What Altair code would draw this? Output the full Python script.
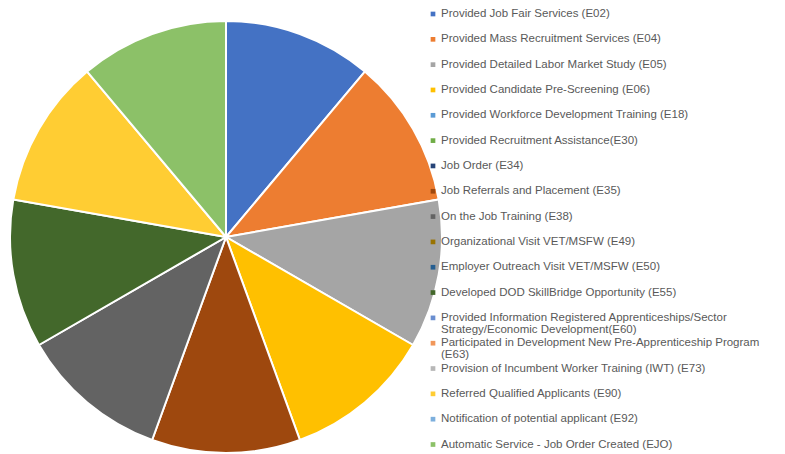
import altair as alt
import pandas as pd

labels = [
    "Provided Job Fair Services (E02)",
    "Provided Mass Recruitment Services (E04)",
    "Provided Detailed Labor Market Study (E05)",
    "Provided Candidate Pre-Screening (E06)",
    "Provided Workforce Development Training (E18)",
    "Provided Recruitment Assistance(E30)",
    "Job Order (E34)",
    "Job Referrals and Placement (E35)",
    "On the Job Training (E38)",
    "Organizational Visit VET/MSFW (E49)",
    "Employer Outreach Visit VET/MSFW (E50)",
    "Developed DOD SkillBridge Opportunity (E55)",
    "Provided Information Registered Apprenticeships/Sector\nStrategy/Economic Development(E60)",
    "Participated in Development New Pre-Apprenticeship Program\n(E63)",
    "Provision of Incumbent Worker Training (IWT) (E73)",
    "Referred Qualified Applicants (E90)",
    "Notification of potential applicant (E92)",
    "Automatic Service - Job Order Created (EJO)",
]
values = [1, 1, 1, 1, 0, 0, 0, 1, 1, 0, 0, 1, 0, 0, 0, 1, 0, 1]
colors = [
    "#4472C4", "#ED7D31", "#A5A5A5", "#FFC000", "#5B9BD5", "#70AD47",
    "#264478", "#9E480E", "#636363", "#997300", "#255E91", "#43682B",
    "#698ED0", "#F1975A", "#B7B7B7", "#FFCD33", "#7CAFDD", "#8CC168",
]

df = pd.DataFrame({
    "label": labels,
    "value": values,
    "idx": list(range(len(labels))),
})

W, H = 769, 430
color_scale = alt.Scale(domain=labels, range=colors)

pie = alt.Chart(df).transform_filter("datum.value > 0").mark_arc(
    outerRadius=216, stroke="white", strokeWidth=2
).encode(
    theta=alt.Theta("value:Q", stack=True),
    order=alt.Order("idx:Q"),
    color=alt.Color("label:N", scale=color_scale, legend=None),
    x=alt.value(218),
    y=alt.value(221),
)

yscale = alt.Scale(domain=[0, 17], range=[-2, 428.5])

leg_sym = alt.Chart(df).mark_square(size=22, opacity=1).encode(
    x=alt.value(425),
    y=alt.Y("idx:Q", scale=yscale, axis=None),
    color=alt.Color("label:N", scale=color_scale, legend=None),
)

leg_txt = alt.Chart(df).mark_text(
    align="left", baseline="middle", font="Liberation Sans", fontSize=11.5,
    color="#595959", lineBreak="\n", lineHeight=12
).encode(
    x=alt.value(433),
    y=alt.Y("idx:Q", scale=yscale, axis=None),
    text="label:N",
)

chart = alt.layer(pie, leg_sym, leg_txt).resolve_scale(
    color="shared"
).properties(
    width=W, height=H,
    padding={"left": 0, "top": 8, "right": 0, "bottom": 8},
    autosize=alt.AutoSizeParams(type="none"),
).configure_view(stroke=None)

chart.save("out.html", embed_options={"renderer": "svg", "actions": False})
